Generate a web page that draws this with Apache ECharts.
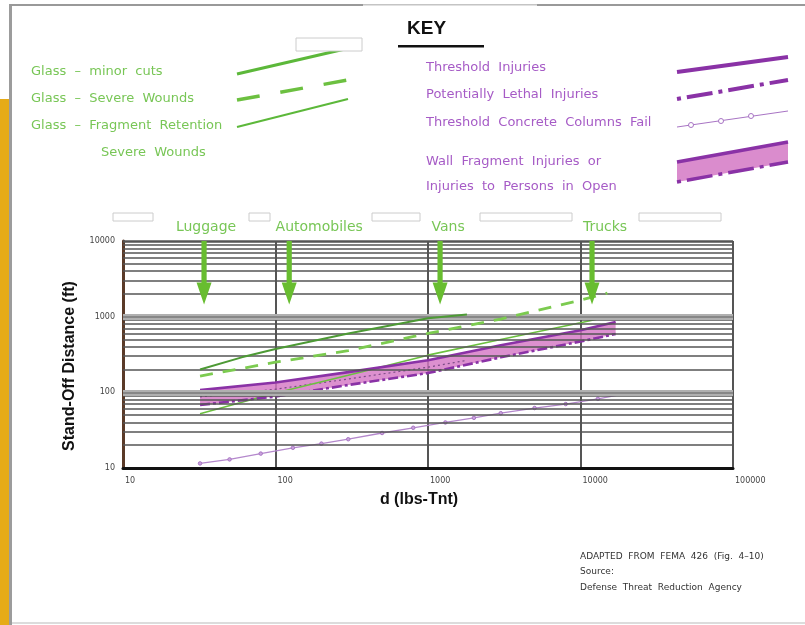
<!DOCTYPE html>
<html><head><meta charset="utf-8">
<script src="https://cdn.jsdelivr.net/npm/echarts@6/dist/echarts.min.js"></script>
<style>html,body{margin:0;padding:0;background:#fff}#c{width:805px;height:625px}</style>
</head><body><div id="c"></div>
<script>
// ---- data ----
const xTicks = [10, 100, 1000, 10000, 100000];
const yTicks = [10, 100, 1000, 10000];
const minorGrid = [20,30,40,50,60,70,80,90,200,300,400,500,600,700,800,900,2000,3000,4000,5000,6000,7000,8000,9000];
const majorGrid = [100, 1000];
const glassMinorCuts = [[32,200],[60,290],[100,373],[300,600],[1000,950],[1800,1070]];
const glassSevereWounds = [[32,164],[100,250],[300,355],[1000,600],[3000,930],[10000,1650],[15000,2050]];
const glassFragRetention = [[32,52],[100,98],[300,168],[1000,310],[3000,500],[10000,830],[15000,990]];
const thresholdInjuries = [[32,107],[100,135],[300,185],[1000,265],[3000,420],[10000,660],[17000,850]];
const lethalInjuries = [[32,68],[100,88],[300,125],[1000,180],[3000,290],[10000,470],[17000,590]];
const bandMidDotted = [[32,87],[100,110],[300,150],[1000,215],[1800,265]];
const columnsFail = [[32,11.5],[50,13],[80,15.5],[130,18.5],[200,21],[300,24],[500,29],[800,34],[1300,40],[2000,46],[3000,53],[5000,62],[8000,70],[13000,82],[22000,100]];
const threatNames = ['Luggage', 'Automobiles', 'Vans', 'Trucks'];
const threatX = [34, 123, 1200, 11900];
const arrowSpan = [10000, 1450];

// ---- styles ----
const GREEN_TXT = '#78c656';
const PURPLE_TXT = '#a65bc6';
const PURPLE = '#8a32a6';
const labelDx = [2, 30, 8, 13];
const CAD = '"DejaVu Sans", sans-serif';

const chart = echarts.init(document.getElementById('c'), null, {renderer: 'canvas'});

const gridMarks = [];
minorGrid.forEach(v => gridMarks.push({yAxis: v, lineStyle: {color: '#555', width: 1.7, type: 'solid'}}));
majorGrid.forEach(v => {
  gridMarks.push({yAxis: v, lineStyle: {color: '#b0b0b0', width: 6, type: 'solid'}});
  gridMarks.push({yAxis: v, lineStyle: {color: '#7a7a7a', width: 1.5, type: 'solid'}});
});
gridMarks.push({yAxis: yTicks[yTicks.length - 1], lineStyle: {color: '#555', width: 2.5, type: 'solid'}});

const txt = (x, y, text, fill, font, extra) => Object.assign({
  type: 'text', x, y, silent: true,
  style: {text, fill, font, textVerticalAlign: 'middle', verticalAlign: 'middle'}
}, extra || {});
const seg = (x1, y1, x2, y2, stroke, lineWidth, lineDash) => ({
  type: 'line', silent: true, shape: {x1, y1, x2, y2},
  style: {stroke, lineWidth, lineDash: lineDash || null, lineCap: 'butt'}
});
const box = (x, y, w, h) => ({type: 'rect', silent: true, shape: {x, y, width: w, height: h}, style: {fill: '#fff', stroke: '#cccccc', lineWidth: 1}, z: 100});
const plain = v => String(Math.round(v));

const option = {
  backgroundColor: '#fff',
  animation: false,
  grid: {left: 123, top: 241, right: 72, bottom: 157, containLabel: false},
  xAxis: {
    type: 'log', logBase: 10, min: xTicks[0], max: xTicks[xTicks.length - 1],
    axisLine: {show: true, lineStyle: {color: '#111', width: 3}},
    axisTick: {show: false},
    axisLabel: {fontSize: 8, color: '#444', align: 'left', margin: 9, fontFamily: 'DejaVu Sans', padding: [0,0,0,2], formatter: plain},
    splitLine: {show: true, lineStyle: {color: '#555', width: 2}}
  },
  yAxis: {
    type: 'log', logBase: 10, min: yTicks[0], max: yTicks[yTicks.length - 1],
    axisLine: {show: true, lineStyle: {color: '#5a3a28', width: 3}},
    axisTick: {show: false},
    axisLabel: {fontSize: 8, color: '#444', margin: 8, fontFamily: 'DejaVu Sans', formatter: plain},
    splitLine: {show: false}
  },
  series: [
    {
      type: 'line', data: [[xTicks[0], yTicks[0]]], symbol: 'none', silent: true, z: 1,
      lineStyle: {opacity: 0},
      markLine: {silent: true, symbol: ['none', 'none'], label: {show: false}, animation: false, data: gridMarks}
    },
    {
      type: 'custom', z: 2, silent: true,
      data: [thresholdInjuries[0]],
      renderItem(params, api) {
        const pts = thresholdInjuries.map(p => api.coord(p))
          .concat(lethalInjuries.slice().reverse().map(p => api.coord(p)));
        return {type: 'polygon', shape: {points: pts}, style: {fill: 'rgba(212,120,196,0.82)'}};
      }
    },
    {type: 'line', name: 'Band centre', data: bandMidDotted, symbol: 'none', z: 3, silent: true,
      lineStyle: {color: '#7b4a86', width: 1.2, type: [2, 3]}},
    {type: 'line', name: 'Threshold Concrete Columns Fail', data: columnsFail, z: 3, silent: true,
      symbol: 'circle', symbolSize: 3.5, itemStyle: {color: '#c9a3dc', borderColor: '#a874c4', borderWidth: 1},
      lineStyle: {color: '#b488cc', width: 1.3}},
    {type: 'line', name: 'Glass - Fragment Retention', data: glassFragRetention, symbol: 'none', z: 4, silent: true,
      lineStyle: {color: '#6cc040', width: 1.6}},
    {type: 'line', name: 'Threshold Injuries', data: thresholdInjuries, symbol: 'none', z: 4, silent: true,
      lineStyle: {color: PURPLE, width: 2.6}},
    {type: 'line', name: 'Potentially Lethal Injuries', data: lethalInjuries, symbol: 'none', z: 4, silent: true,
      lineStyle: {color: PURPLE, width: 2.6, type: [10, 3, 3, 3]}},
    {type: 'line', name: 'Glass - Severe Wounds', data: glassSevereWounds, symbol: 'none', z: 5, silent: true,
      lineStyle: {color: '#7ccb50', width: 2.8, type: [13, 10]}},
    {type: 'line', name: 'Glass - minor cuts', data: glassMinorCuts, symbol: 'none', z: 5, silent: true,
      lineStyle: {color: '#4d9a35', width: 2}},
    {
      type: 'custom', z: 6, silent: true,
      data: threatX.map((x, i) => [x, arrowSpan[0], arrowSpan[1], i]),
      encode: {x: 0, y: [1, 2]},
      renderItem(params, api) {
        const i = api.value(3);
        const top = api.coord([api.value(0), api.value(1)]);
        const tip = api.coord([api.value(0), api.value(2)]);
        const cx = top[0], sw = 2.6, hw = 7.5, hb = tip[1] - 22;
        return {type: 'group', children: [
          {type: 'polygon', shape: {points: [[cx - sw, top[1]], [cx + sw, top[1]], [cx + sw, hb], [cx + hw, hb], [cx, tip[1]], [cx - hw, hb], [cx - sw, hb]]},
            style: {fill: '#68bd30'}},
          {type: 'text', x: cx + labelDx[i], y: top[1] - 14,
            style: {text: threatNames[i], fill: GREEN_TXT, font: '14px ' + CAD, align: 'center', verticalAlign: 'middle'}}
        ]};
      }
    }
  ],
  graphic: {elements: [
    // frame
    {type: 'rect', silent: true, shape: {x: 0, y: 99, width: 9, height: 526}, style: {fill: '#e6ab17'}},
    {type: 'rect', silent: true, shape: {x: 9, y: 4, width: 3, height: 621}, style: {fill: '#9c9c9c'}},
    {type: 'rect', silent: true, shape: {x: 10, y: 4, width: 353, height: 2}, style: {fill: '#999'}},
    {type: 'rect', silent: true, shape: {x: 363, y: 4, width: 174, height: 1.5}, style: {fill: '#c4c4c4'}},
    {type: 'rect', silent: true, shape: {x: 537, y: 4, width: 268, height: 2}, style: {fill: '#999'}},
    {type: 'rect', silent: true, shape: {x: 12, y: 622, width: 793, height: 2}, style: {fill: '#dcdcdc'}},
    // key title
    txt(407, 29, 'KEY', '#111', 'bold 19px "Liberation Sans", Arial, sans-serif'),
    {type: 'rect', silent: true, shape: {x: 398, y: 45, width: 86, height: 2.5}, style: {fill: '#111'}},
    // green key
    txt(31, 72, 'Glass  –  minor  cuts', GREEN_TXT, '13px ' + CAD),
    txt(31, 99, 'Glass  –  Severe  Wounds', GREEN_TXT, '13px ' + CAD),
    txt(31, 126, 'Glass  –  Fragment  Retention', GREEN_TXT, '13px ' + CAD),
    txt(101, 153, 'Severe  Wounds', GREEN_TXT, '13px ' + CAD),
    seg(237, 74, 345, 49, '#5cb83a', 3),
    seg(237, 100, 348, 80, '#6cc040', 3.5, [23, 21]),
    seg(237, 127, 348, 99, '#5cb83a', 2),
    // purple key
    txt(426, 68, 'Threshold  Injuries', PURPLE_TXT, '13px ' + CAD),
    txt(426, 95, 'Potentially  Lethal  Injuries', PURPLE_TXT, '13px ' + CAD),
    txt(426, 123, 'Threshold  Concrete  Columns  Fail', PURPLE_TXT, '13px ' + CAD),
    txt(426, 162, 'Wall  Fragment  Injuries  or', PURPLE_TXT, '13px ' + CAD),
    txt(426, 187, 'Injuries  to  Persons  in  Open', PURPLE_TXT, '13px ' + CAD),
    seg(677, 72, 788, 57, PURPLE, 4),
    seg(677, 99, 788, 80, PURPLE, 4, [4, 6, 26, 6]),
    seg(677, 127, 788, 111, '#a874c4', 1),
    {type: 'circle', silent: true, shape: {cx: 691, cy: 125, r: 2.5}, style: {fill: '#fff', stroke: '#a874c4', lineWidth: 1}},
    {type: 'circle', silent: true, shape: {cx: 721, cy: 121, r: 2.5}, style: {fill: '#fff', stroke: '#a874c4', lineWidth: 1}},
    {type: 'circle', silent: true, shape: {cx: 751, cy: 116, r: 2.5}, style: {fill: '#fff', stroke: '#a874c4', lineWidth: 1}},
    {type: 'polygon', silent: true, shape: {points: [[677, 162], [788, 142], [788, 162], [677, 182]]}, style: {fill: 'rgba(212,120,196,0.85)'}},
    seg(677, 162, 788, 142, PURPLE, 3.5),
    seg(677, 182, 788, 162, PURPLE, 3.5, [4, 6, 26, 6]),
    // redaction boxes
    box(296, 38, 66, 13),
    box(113, 213, 40, 8), box(249, 213, 21, 8), box(372, 213, 48, 8), box(480, 213, 92, 8), box(639, 213, 82, 8),
    // axis titles
    txt(70, 366, 'Stand-Off Distance (ft)', '#111', 'bold 16px "Liberation Sans", Arial, sans-serif',
      {rotation: Math.PI / 2, style: {text: 'Stand-Off Distance (ft)', fill: '#111', font: 'bold 16px "Liberation Sans", Arial, sans-serif', align: 'center', verticalAlign: 'middle'}}),
    txt(419, 500, 'd (lbs-Tnt)', '#111', 'bold 16px "Liberation Sans", Arial, sans-serif',
      {style: {text: 'd (lbs-Tnt)', fill: '#111', font: 'bold 16px "Liberation Sans", Arial, sans-serif', align: 'center', verticalAlign: 'middle'}}),
    // source
    txt(580, 557, 'ADAPTED  FROM  FEMA  426  (Fig.  4–10)', '#333', '9px ' + CAD),
    txt(580, 572, 'Source:', '#333', '9px ' + CAD),
    txt(580, 588, 'Defense  Threat  Reduction  Agency', '#333', '9px ' + CAD)
  ]}
};
chart.setOption(option);
</script>
</body></html>
